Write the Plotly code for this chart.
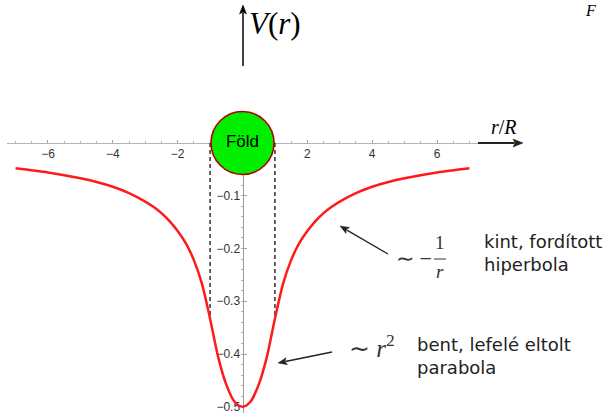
import math
import plotly.graph_objects as go

# Potential curve samples: radius in units of R, potential V(r)
r_vals = [-7, -6, -5, -4.5, -4, -3.5, -3, -2.75, -2.5, -2.25, -2, -1.75, -1.5, -1.25, -1,
          -0.75, -0.5, -0.25, 0, 0.25, 0.5, 0.75, 1, 1.25, 1.5, 1.75, 2, 2.25, 2.5, 2.75,
          3, 3.5, 4, 4.5, 5, 6, 7]
v_vals = [-0.048, -0.056, -0.067, -0.074, -0.083, -0.095, -0.111, -0.121, -0.133, -0.148, -0.167,
          -0.190, -0.222, -0.267, -0.333, -0.406, -0.458, -0.490, -0.500, -0.490, -0.458, -0.406,
          -0.333, -0.267, -0.222, -0.190, -0.167, -0.148, -0.133, -0.121, -0.111, -0.095, -0.083,
          -0.074, -0.067, -0.056, -0.048]

# Planet surface radius and potential there
surface_r = [-1, 1]
surface_v = [-0.333, -0.333]

x_tick_vals = [-6, -4, -2, 2, 4, 6]
x_tick_text = ["−6", "−4", "−2", "2", "4", "6"]
y_tick_vals = [-0.1, -0.2, -0.3, -0.4, -0.5]
y_tick_text = ["−0.1", "−0.2", "−0.3", "−0.4", "−0.5"]

W, H = 604, 419


def px(x):
    return x / W


def py(y):
    return (H - y) / H


SERIF = "Liberation Serif"
SANS = "DejaVu Sans"
TICK_FONT = dict(family="Liberation Sans, Arial", size=12, color="#333333")

fig = go.Figure()

# dashed guides at the planet's surface
for rs, vs in zip(surface_r, surface_v):
    fig.add_trace(go.Scatter(
        x=[rs, rs], y=[0, vs], mode="lines",
        line=dict(color="#111111", width=1.3, dash="4px,3px"),
        hoverinfo="skip", showlegend=False))

# potential curve
fig.add_trace(go.Scatter(
    x=r_vals, y=v_vals, mode="lines",
    line=dict(color="#ff1a1a", width=2.5, shape="spline", smoothing=0.8),
    showlegend=False))

# the planet itself
fig.add_trace(go.Scatter(
    x=[0], y=[0], mode="markers+text", text=["Föld"], textposition="middle center",
    textfont=dict(family="Liberation Sans, Arial", size=17, color="black"),
    marker=dict(size=63, color="#00ee00", line=dict(color="#b00000", width=1.6)),
    cliponaxis=False, hoverinfo="skip", showlegend=False))

fig.update_layout(
    width=W, height=H,
    margin=dict(l=0, r=0, t=0, b=0),
    paper_bgcolor="white", plot_bgcolor="white",
    xaxis=dict(
        domain=[px(7), px(478)], range=[-7.264, 7.264],
        anchor="free", position=py(143), side="bottom", layer="below traces",
        showline=True, linecolor="#b3b3b3", linewidth=1,
        showgrid=False, zeroline=False,
        ticks="inside", ticklen=3, tickcolor="#a0a0a0", tickwidth=1,
        tickvals=x_tick_vals, ticktext=x_tick_text, tickfont=TICK_FONT,
        minor=dict(tick0=0, dtick=0.5, ticks="inside", ticklen=2, tickcolor="#b0b0b0", showgrid=False),
    ),
    yaxis=dict(
        domain=[py(413), py(143)], range=[-(413 - 143) / 527.5, 0],
        anchor="free", position=px(242.5), side="left", layer="below traces",
        showline=True, linecolor="#9a9a9a", linewidth=1,
        showgrid=False, zeroline=False,
        ticks="inside", ticklen=3, tickcolor="#a0a0a0", tickwidth=1,
        tickvals=y_tick_vals, ticktext=y_tick_text, tickfont=TICK_FONT,
        minor=dict(tick0=0, dtick=0.02, ticks="outside", ticklen=2, tickcolor="#b0b0b0", showgrid=False),
    ),
)


def arrow(tail, head, color, width, head_len=9.0, head_half=3.5):
    """Straight arrow between two pixel points, drawn as paper-space shapes."""
    (x0, y0), (x1, y1) = tail, head
    dx, dy = x1 - x0, y1 - y0
    n = math.hypot(dx, dy)
    ux, uy = dx / n, dy / n
    bx, by = x1 - ux * head_len, y1 - uy * head_len
    fig.add_shape(type="line", xref="paper", yref="paper",
                  x0=px(x0), y0=py(y0), x1=px(bx + ux * 1.5), y1=py(by + uy * 1.5),
                  line=dict(color=color, width=width))
    lx, ly = bx - uy * head_half, by + ux * head_half
    rx, ry = bx + uy * head_half, by - ux * head_half
    path = (f"M {px(x1)} {py(y1)} L {px(lx)} {py(ly)} "
            f"L {px(bx + ux * 2)} {py(by + uy * 2)} L {px(rx)} {py(ry)} Z")
    fig.add_shape(type="path", xref="paper", yref="paper", path=path,
                  fillcolor=color, line=dict(color=color, width=0.5))


# axis arrows
arrow((243, 66), (243, 5), "black", 1.5)
arrow((478, 143), (523, 143), "#222222", 2.2, head_len=10, head_half=4)
# pointer arrows for the notes
arrow((388, 254), (340, 226), "#222222", 1.4)
arrow((332, 352), (278, 363), "#222222", 1.4)

ann = []
ann.append(dict(xref="paper", yref="paper", x=px(247), y=py(24), xanchor="left", yanchor="middle",
                text="<i>V</i>(<i>r</i>)", showarrow=False,
                font=dict(family=SERIF, size=31, color="black")))
ann.append(dict(xref="paper", yref="paper", x=px(583), y=py(10), xanchor="left", yanchor="middle",
                text="<i>F</i>", showarrow=False,
                font=dict(family=SERIF, size=16, color="black")))
ann.append(dict(xref="paper", yref="paper", x=px(504), y=py(127), xanchor="center", yanchor="middle",
                text="<i>r</i>/<i>R</i>", showarrow=False,
                font=dict(family=SERIF, size=20, color="black")))
# outer branch note
ann.append(dict(xref="paper", yref="paper", x=px(394), y=py(258), xanchor="left", yanchor="middle",
                text="∼ −", showarrow=False,
                font=dict(family=SERIF, size=22, color="#333333")))
ann.append(dict(xref="paper", yref="paper", x=px(440), y=py(242), xanchor="center", yanchor="middle",
                text="1", showarrow=False,
                font=dict(family=SERIF, size=19, color="#333333")))
ann.append(dict(xref="paper", yref="paper", x=px(440), y=py(271), xanchor="center", yanchor="middle",
                text="<i>r</i>", showarrow=False,
                font=dict(family=SERIF, size=19, color="#333333")))
ann.append(dict(xref="paper", yref="paper", x=px(482), y=py(253.5), xanchor="left", yanchor="middle",
                text="kint, fordított<br>hiperbola", align="left", showarrow=False,
                font=dict(family=SANS, size=18, color="#222222")))
# inner branch note
ann.append(dict(xref="paper", yref="paper", x=px(347), y=py(346), xanchor="left", yanchor="middle",
                text="∼ <i>r</i><sup>2</sup>", showarrow=False,
                font=dict(family=SERIF, size=25, color="#333333")))
ann.append(dict(xref="paper", yref="paper", x=px(415), y=py(356), xanchor="left", yanchor="middle",
                text="bent, lefelé eltolt<br>parabola", align="left", showarrow=False,
                font=dict(family=SANS, size=18, color="#222222")))
fig.update_layout(annotations=ann)

# fraction bar of the 1/r label
fig.add_shape(type="line", xref="paper", yref="paper",
              x0=px(434), x1=px(446), y0=py(259), y1=py(259),
              line=dict(color="#333333", width=1))

fig.write_html("out.html")
